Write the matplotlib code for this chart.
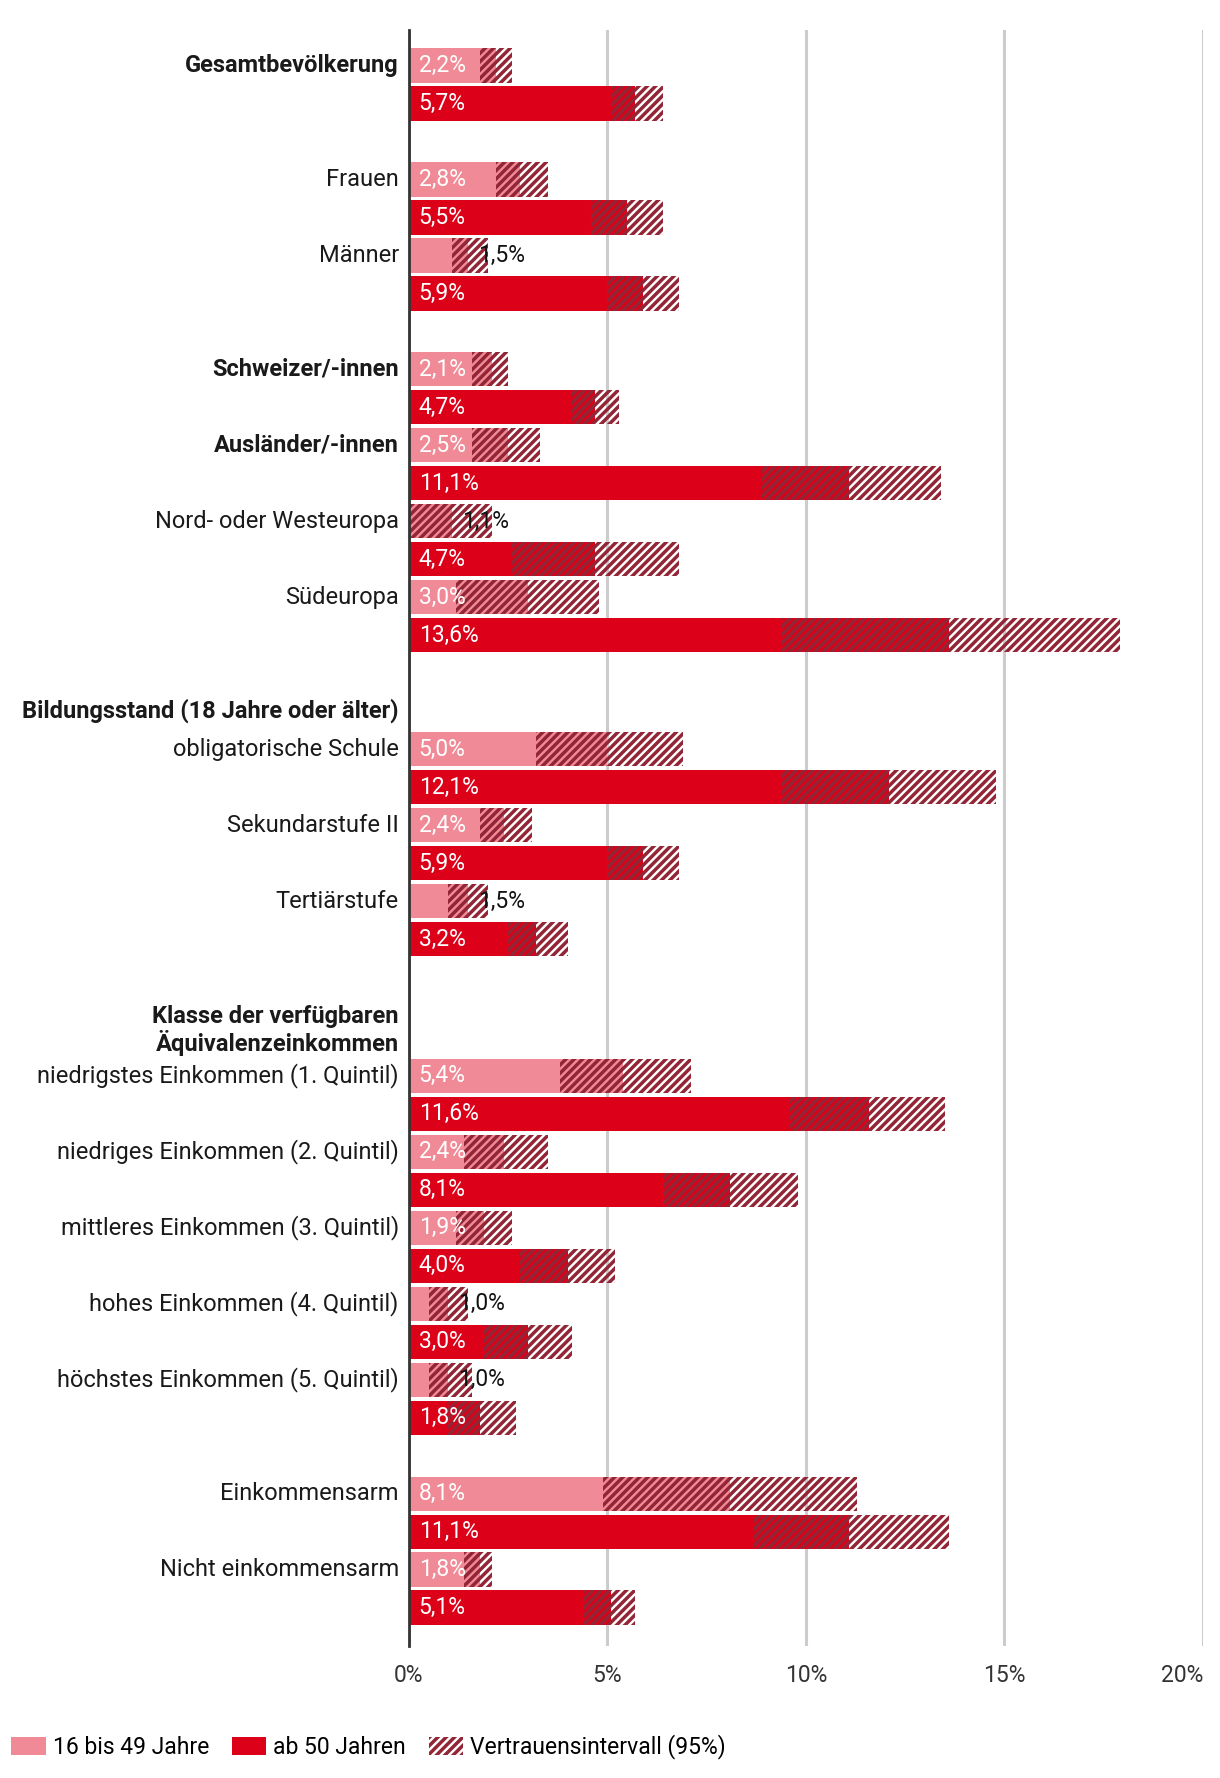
import matplotlib.pyplot as plt
from matplotlib.patches import Patch

# data (percent)
categories = [
    "Gesamtbevölkerung", "Frauen", "Männer", "Schweizer/-innen", "Ausländer/-innen",
    "Nord- oder Westeuropa", "Südeuropa", "obligatorische Schule", "Sekundarstufe II",
    "Tertiärstufe", "niedrigstes Einkommen (1. Quintil)", "niedriges Einkommen (2. Quintil)",
    "mittleres Einkommen (3. Quintil)", "hohes Einkommen (4. Quintil)",
    "höchstes Einkommen (5. Quintil)", "Einkommensarm", "Nicht einkommensarm",
]
bold_categories = ["Gesamtbevölkerung", "Schweizer/-innen", "Ausländer/-innen"]
headers = ["Bildungsstand (18 Jahre oder älter)", "Klasse der verfügbaren\nÄquivalenzeinkommen"]

young_val = [2.2, 2.8, 1.5, 2.1, 2.5, 1.1, 3.0, 5.0, 2.4, 1.5, 5.4, 2.4, 1.9, 1.0, 1.0, 8.1, 1.8]
young_lo = [1.8, 2.2, 1.1, 1.6, 1.6, 0.0, 1.2, 3.2, 1.8, 1.0, 3.8, 1.4, 1.2, 0.5, 0.5, 4.9, 1.4]
young_hi = [2.6, 3.5, 2.0, 2.5, 3.3, 2.1, 4.8, 6.9, 3.1, 2.0, 7.1, 3.5, 2.6, 1.5, 1.6, 11.3, 2.1]

old_val = [5.7, 5.5, 5.9, 4.7, 11.1, 4.7, 13.6, 12.1, 5.9, 3.2, 11.6, 8.1, 4.0, 3.0, 1.8, 11.1, 5.1]
old_lo = [5.1, 4.6, 5.0, 4.1, 8.9, 2.6, 9.4, 9.4, 5.0, 2.5, 9.6, 6.4, 2.8, 1.9, 1.0, 8.7, 4.4]
old_hi = [6.4, 6.4, 6.8, 5.3, 13.4, 6.8, 17.9, 14.8, 6.8, 4.0, 13.5, 9.8, 5.2, 4.1, 2.7, 13.6, 5.7]

xticks = [0, 5, 10, 15, 20]
xtick_labels = ["0%", "5%", "10%", "15%", "20%"]

# layout: row slot of each category (first bar), header slots
row_pos = [0, 3, 5, 8, 10, 12, 14, 18, 20, 22, 26.6, 28.6, 30.6, 32.6, 34.6, 37.6, 39.6]
header_pos = [17, 25.4]

PINK = "#F08A96"
RED = "#DC0018"
HATCH = "#932636"
TEXT = "#1a1a1a"
BAR_H = 0.9

plt.rcParams["font.family"] = ["Roboto", "DejaVu Sans"]
plt.rcParams["hatch.linewidth"] = 2.5

fig = plt.figure(figsize=(12.2, 17.78), dpi=100)
ax = fig.add_axes([0.335, 0.0745, 0.651, 0.9085])


def draw_bars(y, val, lo, hi, color):
    # solid part up to the lower CI bound, hatched up to the value, hatched only up to the upper bound
    ax.barh(y, lo, height=BAR_H, color=color, linewidth=0)
    ax.barh(y, val - lo, left=lo, height=BAR_H, color=color,
            edgecolor=HATCH, hatch="////", linewidth=0)
    ax.barh(y, hi - val, left=val, height=BAR_H, facecolor="none",
            edgecolor=HATCH, hatch="////", linewidth=0)


def value_label(y, val):
    txt = f"{val:.1f}%".replace(".", ",")
    if val < 1.8:
        ax.text(val + 0.25, y, txt, color="#111111", fontsize=16.5,
                va="center", ha="left")
    else:
        ax.text(0.25, y, txt, color="white", fontsize=16.5,
                va="center", ha="left")


ys_young = row_pos
ys_old = [p + 1 for p in row_pos]

for i, cat in enumerate(categories):
    draw_bars(ys_young[i], young_val[i], young_lo[i], young_hi[i], PINK)
    draw_bars(ys_old[i], old_val[i], old_lo[i], old_hi[i], RED)
    value_label(ys_young[i], young_val[i])
    value_label(ys_old[i], old_val[i])
    weight = "bold" if cat in bold_categories else "normal"
    ax.text(-0.25, ys_young[i], cat, ha="right", va="center", fontsize=17,
            fontweight=weight, color=TEXT)

for h, y in zip(headers, header_pos):
    ax.text(-0.25, y, h, ha="right", va="center", fontsize=17,
            fontweight="bold", color=TEXT, linespacing=1.1)

ax.set_xlim(0, 20)
ax.set_ylim(41.6, -0.93)
ax.set_xticks(xticks)
ax.set_xticklabels(xtick_labels, fontsize=16.5, color="#333333")
ax.get_xticklabels()[-1].set_horizontalalignment("right")
ax.set_yticks([])
ax.tick_params(axis="x", length=0, pad=13)
ax.grid(axis="x", color="#cccccc", linewidth=2.2)
ax.set_axisbelow(True)
for side in ["top", "right", "bottom"]:
    ax.spines[side].set_visible(False)
ax.spines["left"].set_color("#333333")
ax.spines["left"].set_linewidth(2)
ax.spines["left"].set_zorder(5)

handles = [
    Patch(facecolor=PINK, linewidth=0, label="16 bis 49 Jahre"),
    Patch(facecolor=RED, linewidth=0, label="ab 50 Jahren"),
    Patch(facecolor="none", edgecolor=HATCH, hatch="////", linewidth=0,
          label="Vertrauensintervall (95%)"),
]
fig.legend(handles=handles, loc="lower left", bbox_to_anchor=(0.0, 0.004),
           ncol=3, frameon=False, fontsize=16.5, handlelength=1.5,
           handleheight=0.85, handletextpad=0.3, columnspacing=1.0,
           borderaxespad=0.2, borderpad=0.3)

fig.savefig("out.png", dpi=100, facecolor="white")
